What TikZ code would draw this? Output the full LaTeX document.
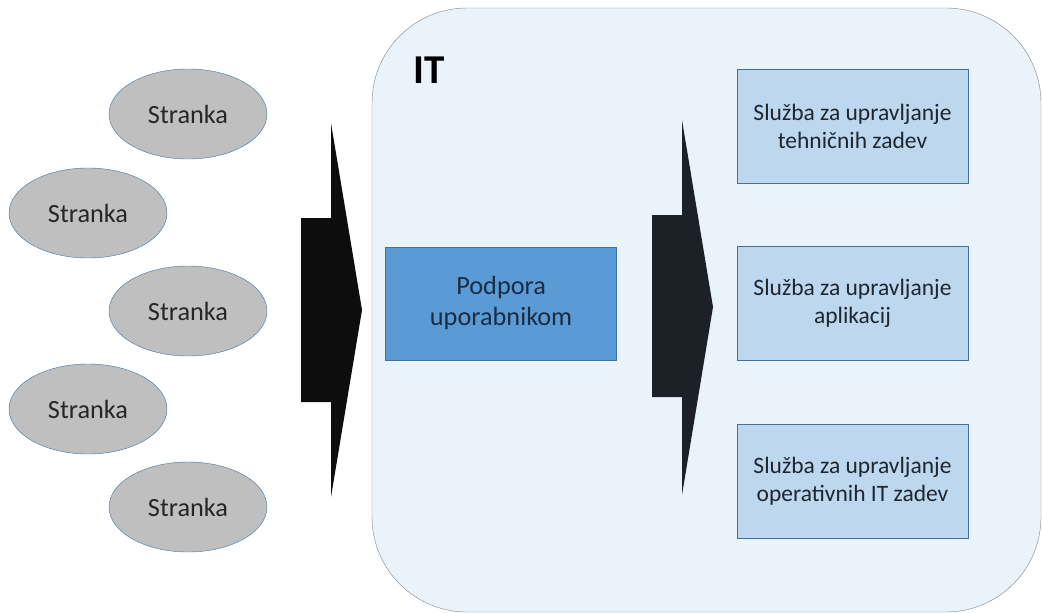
\documentclass[tikz,border=0pt]{standalone}
\usepackage{fontspec}
\setmainfont{Carlito}
\usetikzlibrary{shapes.geometric, positioning}

\definecolor{clientfill}{HTML}{BFBFBF}
\definecolor{edgeblue}{HTML}{41719C}
\definecolor{itfill}{HTML}{EBF3FA}
\definecolor{itedge}{HTML}{7A838C}
\definecolor{supfill}{HTML}{5B9BD5}
\definecolor{svcfill}{HTML}{BDD7EE}
\definecolor{arrowdark}{HTML}{0D0D0D}
\definecolor{arrowslate}{HTML}{1B2127}
\definecolor{textdark}{HTML}{1E2630}
\definecolor{textnavy}{HTML}{1A2C44}

\tikzset{
  client/.style={draw=edgeblue, fill=clientfill, ellipse, minimum width=158pt, minimum height=90pt, inner sep=0pt, font=\fontsize{26.3}{30}\selectfont, text=black!85},
  support/.style={draw=edgeblue, fill=supfill, minimum width=231pt, minimum height=113pt, align=center, font=\fontsize{26.3}{31}\selectfont, text=textnavy},
  service/.style={draw=edgeblue, fill=svcfill, minimum width=231pt, minimum height=114pt, align=center, font=\fontsize{23.5}{28}\selectfont, text=textdark},
}

\begin{document}
\begin{tikzpicture}[x=1pt, y=-1pt]
\useasboundingbox (0,0) rectangle (1042,613);

% IT area
\draw[draw=itedge, fill=itfill, rounded corners=95pt] (372,8) rectangle (1041,612);
\node[font=\fontsize{41}{44}\selectfont\bfseries] (it) at (429,70) {IT};

% clients
\node[client] (c1) at (188,114) {Stranka};
\node[client] (c2) at (88,213) {Stranka};
\node[client] (c3) at (188,311) {Stranka};
\node[client] (c4) at (88,409) {Stranka};
\node[client] (c5) at (188,507) {Stranka};

% block arrows
\fill[arrowdark] (301,218) -- (331,218) -- (331,123) -- (362,310) -- (331,497) -- (331,402) -- (301,402) -- cycle;
\fill[arrowslate] (652,215) -- (682,215) -- (682,120) -- (713,307) -- (682,495) -- (682,397) -- (652,397) -- cycle;

% services
\node[service] (s1) at (852.5,126) {Služba za upravljanje\\tehničnih zadev};
\node[service, below=63pt of s1] (s2) {Služba za upravljanje\\aplikacij};
\node[service, below=63pt of s2] (s3) {Služba za upravljanje\\operativnih IT zadev};

\node[support, left=120pt of s2] (sup) {Podpora\\uporabnikom};
\end{tikzpicture}
\end{document}
